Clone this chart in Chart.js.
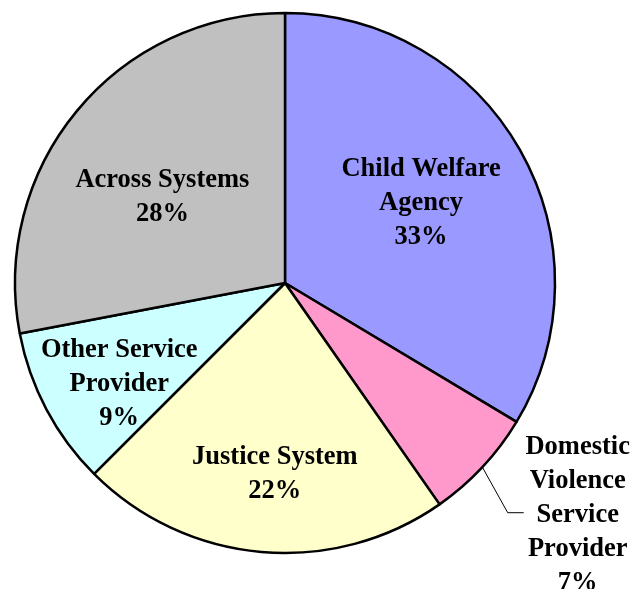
<!DOCTYPE html>
<html>
<head>
<meta charset="utf-8">
<script src="https://cdn.jsdelivr.net/npm/chart.js@4"></script>
<style>
  html, body { margin: 0; padding: 0; background: #fff; }
  #wrap { width: 632px; height: 589px; }
</style>
</head>
<body>
<div id="wrap"><canvas id="pieChart" width="632" height="589"></canvas></div>
<script>
// Slices start at 12 o'clock and go clockwise
const categories = [
  ['Child Welfare', 'Agency'],
  ['Domestic', 'Violence', 'Service', 'Provider'],
  ['Justice System'],
  ['Other Service', 'Provider'],
  ['Across Systems']
];
const shares = [33.6, 6.7, 22.2, 9.5, 28.0];
const percentLabels = ['33%', '7%', '22%', '9%', '28%'];
const sliceColors = ['#9999FF', '#FF99CC', '#FFFFCC', '#CCFFFF', '#C0C0C0'];

// label placement: fraction of radius from centre (null = outside with leader line),
// plus a small angular nudge in degrees
const labelRadius = [0.585, null, 0.71, 0.72, 0.555];
const labelNudge = [-1, 0, -2, -3.6, -4.5];

const sliceLabels = {
  id: 'sliceLabels',
  afterDatasetsDraw(chart) {
    const ctx = chart.ctx;
    const arcs = chart.getDatasetMeta(0).data;
    const fontSize = 26.5;
    const lineH = 34;
    ctx.save();
    ctx.font = 'bold ' + fontSize + 'px "Liberation Serif", "Times New Roman", serif';
    ctx.fillStyle = '#000';
    ctx.textAlign = 'center';
    ctx.textBaseline = 'middle';
    arcs.forEach((arc, i) => {
      const p = arc.getProps(['x', 'y', 'startAngle', 'endAngle', 'outerRadius'], true);
      const mid = (p.startAngle + p.endAngle) / 2 + labelNudge[i] * Math.PI / 180;
      const lines = categories[i].concat([percentLabels[i]]);
      let cx, cy;
      if (labelRadius[i] !== null) {
        cx = p.x + Math.cos(mid) * p.outerRadius * labelRadius[i];
        cy = p.y + Math.sin(mid) * p.outerRadius * labelRadius[i];
      } else {
        // leader line from the rim out, then a short horizontal run
        const ex = p.x + Math.cos(mid) * p.outerRadius;
        const ey = p.y + Math.sin(mid) * p.outerRadius;
        const bx = p.x + Math.cos(mid + 0.05) * p.outerRadius * 1.185;
        const by = p.y + Math.sin(mid + 0.05) * p.outerRadius * 1.185;
        ctx.beginPath();
        ctx.strokeStyle = '#000';
        ctx.lineWidth = 1;
        ctx.moveTo(ex, ey);
        ctx.lineTo(bx, by);
        ctx.lineTo(bx + 16, by);
        ctx.stroke();
        cx = bx + 70;
        cy = by + 2;
      }
      const top = cy - (lines.length - 1) * lineH / 2;
      lines.forEach((t, k) => ctx.fillText(t, cx, top + k * lineH));
    });
    ctx.restore();
  }
};

new Chart(document.getElementById('pieChart').getContext('2d'), {
  type: 'pie',
  data: {
    labels: categories.map(c => c.join(' ')),
    datasets: [{
      data: shares,
      backgroundColor: sliceColors,
      borderColor: '#000',
      borderWidth: 2.5,
      borderAlign: 'center'
    }]
  },
  options: {
    responsive: false,
    animation: false,
    radius: 270,
    layout: { padding: { left: 0, right: 62, top: 0, bottom: 23 } },
    plugins: {
      legend: { display: false },
      tooltip: { enabled: false }
    }
  },
  plugins: [sliceLabels]
});
</script>
</body>
</html>
